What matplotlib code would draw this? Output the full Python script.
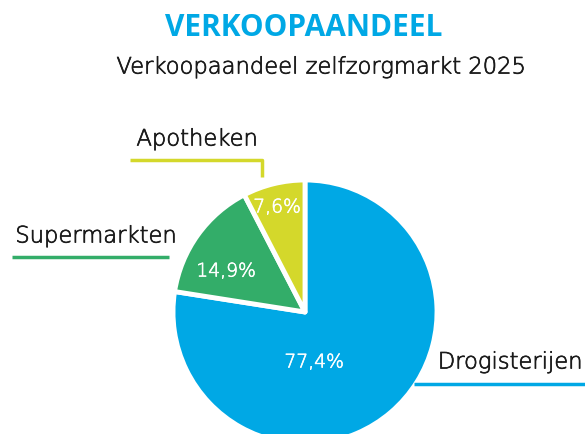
import matplotlib.pyplot as plt
from matplotlib import patheffects as pe

labels = ["Drogisterijen", "Supermarkten", "Apotheken"]
shares = [77.4, 14.9, 7.6]
colors = ["#00a8e5", "#33ad69", "#d4d82b"]

W, H = 585, 435
fig = plt.figure(figsize=(W / 100, H / 100), dpi=100)
ax = fig.add_axes([0, 0, 1, 1])

font = "DejaVu Sans"
wt = "light"
ink = "#1a1a1a"


def thicken(c, w=0.5):
    # light face plus a thin outline gives a weight between light and regular
    return [pe.withStroke(linewidth=w, foreground=c)]


# y axis runs downward, so counterclockwise in data = clockwise on screen
wedges, _ = ax.pie(
    shares, colors=colors, startangle=-90, counterclock=True,
    center=(305, 313), radius=132,
    wedgeprops=dict(edgecolor="white", linewidth=3.5, joinstyle="round"),
)
ax.set_aspect("equal")
ax.set_xlim(0, W)
ax.set_ylim(H, 0)
ax.axis("off")


def fmt(v):
    return f"{v:.1f}".replace(".", ",") + "%"


pct_pos = [(314, 363), (226, 272), (277, 208)]
for (x, y), v in zip(pct_pos, shares):
    ax.text(x, y, fmt(v), color="white", fontsize=13.5, ha="center", va="center",
            family=font, fontweight=wt, path_effects=thicken("white", 0.45))

ax.text(304, 28, "VERKOOPAANDEEL", color="#00a8e5", fontsize=21.5, fontweight="bold",
        ha="center", va="center", family="Open Sans")
ax.text(321, 68, "Verkoopaandeel zelfzorgmarkt 2025", color=ink, fontsize=16.3,
        ha="center", va="center", family=font, fontweight=wt, path_effects=thicken(ink))

# callout labels
ax.text(197, 140, labels[2], fontsize=16.3, ha="center", va="center", color=ink,
        family=font, fontweight=wt, path_effects=thicken(ink))
ax.plot([130, 262, 262], [161, 161, 178], color=colors[2], lw=2.5, solid_capstyle="butt")
ax.text(96, 237, labels[1], fontsize=16.3, ha="center", va="center", color=ink,
        family=font, fontweight=wt, path_effects=thicken(ink))
ax.plot([12, 169], [258, 258], color=colors[1], lw=2.5, solid_capstyle="butt")
ax.text(510, 363, labels[0], fontsize=16.3, ha="center", va="center", color=ink,
        family=font, fontweight=wt, path_effects=thicken(ink))
ax.plot([414, 585], [385, 385], color=colors[0], lw=2.5, solid_capstyle="butt")

fig.savefig("out.png", dpi=100)
